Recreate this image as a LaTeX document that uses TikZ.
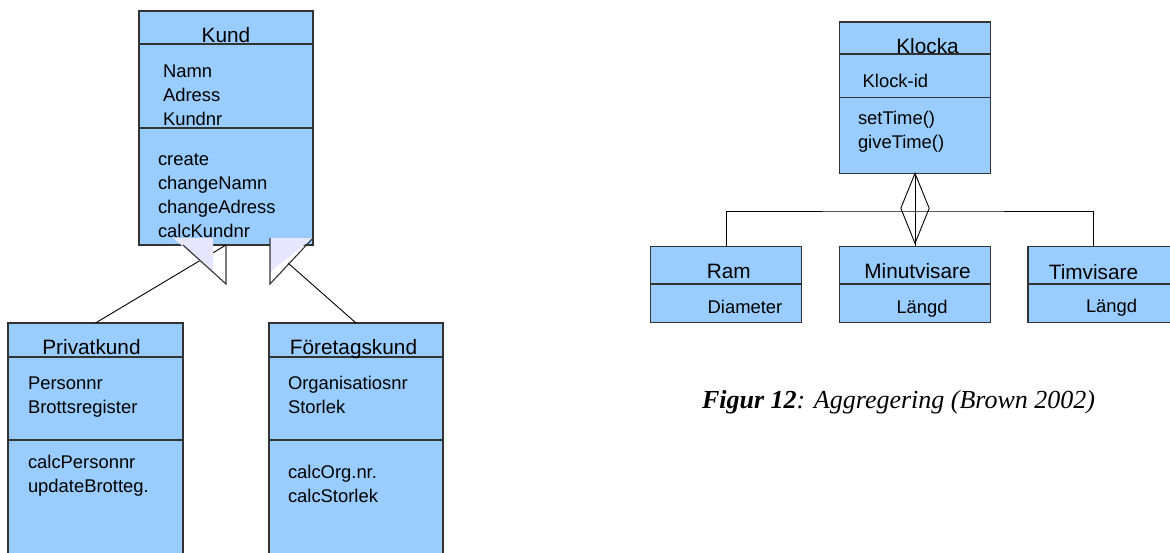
\documentclass[tikz,border=0pt]{standalone}
\usepackage{fontspec}
\usepackage{xcolor}
\usepackage{tikz}
\newfontfamily\umlfont{Liberation Sans}
\newfontfamily\capfont{Liberation Serif}
\definecolor{umlblue}{HTML}{99CCFF}
\definecolor{umledge}{HTML}{333333}
\definecolor{genfill}{HTML}{E6E6FF}

\begin{document}
\begin{tikzpicture}[
			x=1pt, y=-1pt,
			every node/.style={inner sep=0pt, outer sep=0pt},
			cls/.style={draw=umledge, fill=umlblue, line width=1.1pt, anchor=north west, minimum width=#1},
			clsname/.style={font=\umlfont\fontsize{20.8}{21}\selectfont, anchor=base},
			% multi-line members sit on the baseline of their last line
			members/.style={font=\umlfont\fontsize{18.4}{23.7}\selectfont, anchor=base west, align=left},
			link/.style={draw=black, line width=0.9pt}
			]
			\useasboundingbox (0,0) rectangle (1170,552);
			\clip (0,0) rectangle (1170,552);
			
			% Kund and its two subclasses
			\node[cls=174pt, minimum height=33pt] (kund) at (139,11) {};
			\node[cls=174pt, minimum height=84pt] (kundAttr) at (kund.south west) {};
			\node[cls=174pt, minimum height=117pt] (kundOps) at (kundAttr.south west) {};
			
			\node[cls=175pt, minimum height=34pt] (priv) at (8,323) {};
			\node[cls=175pt, minimum height=83pt] (privAttr) at (priv.south west) {};
			\node[cls=175pt, minimum height=125pt] (privOps) at (privAttr.south west) {};
			
			\node[cls=174pt, minimum height=34pt] (foret) at (269,323) {};
			\node[cls=174pt, minimum height=83pt] (foretAttr) at (foret.south west) {};
			\node[cls=174pt, minimum height=125pt] (foretOps) at (foretAttr.south west) {};
			
			\node[clsname] (kundTxt) at (226,42) {Kund};
			\node[members] (kundA) at (163,125) {Namn\\Adress\\Kundnr};
			\node[members] (kundO) at (158,237) {create\\changeNamn\\changeAdress\\calcKundnr};
			
			\node[clsname] (privTxt) at (91.5,354) {Privatkund};
			\node[members] (privA) at (28,413) {Personnr\\Brottsregister};
			\node[members] (privO) at (28,492) {calcPersonnr\\updateBrotteg.};
			
			\node[clsname] (foretTxt) at (353.5,354) {Företagskund};
			\node[members] (foretA) at (288,413) {Organisatiosnr\\Storlek};
			\node[members] (foretO) at (288,502) {calcOrg.nr.\\calcStorlek};
			
			% generalisation heads
			\coordinate (genL) at (226,245);
			\coordinate (genR) at (288,263);
			\draw[link] (priv.north) -- (genL);
			\draw[link] (foret.north) -- (genR);
			\fill[genfill] (173,238) -- (213,238) -- (213,272) -- cycle;
			\fill[genfill] (270,238) -- (313,238) -- (270,272) -- cycle;
			\draw[umledge, line width=1.1pt] (183,245) -- (226,284) -- (226,245);
			\draw[umledge, line width=1.1pt] (313,238) -- (270,284) -- (270,238);
			
			% Klocka aggregation
			\node[cls=151pt, minimum height=32pt] (klocka) at (839.5,22) {};
			\node[cls=151pt, minimum height=43.7pt] (klockaAttr) at (klocka.south west) {};
			\node[cls=151pt, minimum height=75.6pt] (klockaOps) at (klockaAttr.south west) {};
			
			\node[cls=151pt, minimum height=37.3pt] (ram) at (650.8,246.7) {};
			\node[cls=151pt, minimum height=38.3pt] (ramAttr) at (ram.south west) {};
			\node[cls=151pt, minimum height=37.3pt] (minut) at (839.5,246.7) {};
			\node[cls=151pt, minimum height=38.3pt] (minutAttr) at (minut.south west) {};
			\node[cls=160pt, minimum height=37.3pt] (tim) at (1028,246.7) {};
			\node[cls=160pt, minimum height=38.3pt] (timAttr) at (tim.south west) {};
			
			\node[clsname] (klockaTxt) at (927.5,53) {Klocka};
			\node[members] (klockaA) at (862.7,87) {Klock-id};
			\node[members] (klockaO) at (858,148) {setTime()\\giveTime()};
			\node[clsname] (ramTxt) at (728.7,278) {Ram};
			\node[members] (ramA) at (707.7,313) {Diameter};
			\node[clsname] (minutTxt) at (917.5,278) {Minutvisare};
			\node[members] (minutA) at (896.5,313) {Längd};
			\node[clsname] (timTxt) at (1093.5,279) {Timvisare};
			\node[members] (timA) at (1086,312) {Längd};
			
			\coordinate (bus) at (915.8,211);
			\coordinate (timTop) at (1093,246.7);
			\draw[link] (ram.north) |- (bus) -| (timTop);
			\draw[link] (klockaOps.south) -- (minut.north);
			\draw[link] (klockaOps.south) -- ++(-14.2,35) -- ++(14.2,35) -- ++(14.2,-35) -- cycle;
			
			\node[font=\capfont\fontsize{26}{27}\selectfont, anchor=base west] (caption) at (702,408)
			{{\bfseries\itshape Figur 12}\itshape: Aggregering (Brown 2002)};
		\end{tikzpicture}
\end{document}
